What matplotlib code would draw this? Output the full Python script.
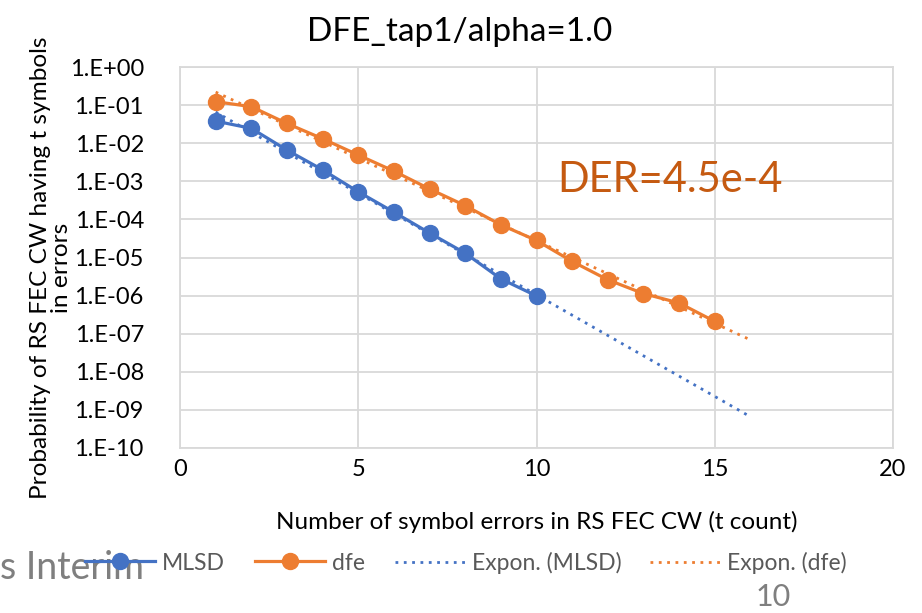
import numpy as np
import matplotlib
matplotlib.use('Agg')
import matplotlib.pyplot as plt
from matplotlib.ticker import FixedLocator, FuncFormatter, NullLocator

plt.rcParams['font.family'] = ['Lato', 'DejaVu Sans']

# symbol error count t and probability of a codeword having t symbol errors
t_mlsd = [1, 2, 3, 4, 5, 6, 7, 8, 9, 10]
p_mlsd = [3.8e-2, 2.45e-2, 6.6e-3, 2.0e-3, 5.3e-4, 1.55e-4, 4.4e-5, 1.3e-5, 2.75e-6, 9.8e-7]

t_dfe = [1, 2, 3, 4, 5, 6, 7, 8, 9, 10, 11, 12, 13, 14, 15]
p_dfe = [0.123, 0.091, 0.033, 0.0131, 4.9e-3, 1.85e-3, 6.3e-4, 2.3e-4, 7.2e-5,
         2.8e-5, 7.9e-6, 2.6e-6, 1.13e-6, 6.4e-7, 2.1e-7]

trend_end = 16
y_ticks = [10.0 ** k for k in range(0, -11, -1)]
x_ticks = [0, 5, 10, 15, 20]

blue = '#4472C4'
orange = '#ED7D31'
grid_col = '#D9D9D9'
W, H = 922, 613


def expon_fit(t, p):
    # exponential trendline: linear fit of ln(p) against t
    b, a = np.polyfit(t, np.log(p), 1)
    tt = np.linspace(t[0], trend_end, 200)
    return tt, np.exp(a + b * tt)


fig = plt.figure(figsize=(W / 100, H / 100), dpi=100)
ax = fig.add_axes([180 / W, 1 - 448 / H, 713 / W, 381 / H])

h1, = ax.plot(t_mlsd, p_mlsd, color=blue, lw=2.3, marker='o', ms=11.5, label='MLSD', zorder=4)
h2, = ax.plot(t_dfe, p_dfe, color=orange, lw=2.3, marker='o', ms=11.5, label='dfe', zorder=4)

tt, pp = expon_fit(t_mlsd, p_mlsd)
h3, = ax.plot(tt, pp, color=blue, lw=2.0, ls=(0, (1, 2.0)), label='Expon. (MLSD)', zorder=3)
tt, pp = expon_fit(t_dfe, p_dfe)
h4, = ax.plot(tt, pp, color=orange, lw=2.0, ls=(0, (1, 2.0)), label='Expon. (dfe)', zorder=3)

ax.set_yscale('log')
ax.set_ylim(1e-10, 1)
ax.set_xlim(0, 20)
ax.yaxis.set_major_locator(FixedLocator(y_ticks))
ax.yaxis.set_minor_locator(NullLocator())
ax.yaxis.set_major_formatter(FuncFormatter(lambda v, pos: '1.E%+03d' % int(round(np.log10(v)))))
ax.xaxis.set_major_locator(FixedLocator(x_ticks))

ax.grid(True, color=grid_col, lw=1.3)
ax.set_axisbelow(True)
for s in ax.spines.values():
    s.set_color(grid_col)
    s.set_linewidth(1.3)
ax.tick_params(axis='both', length=0, labelsize=17, colors='black')
ax.tick_params(axis='y', pad=26)
ax.tick_params(axis='x', pad=8)

ax.set_xlabel('Number of symbol errors in RS FEC CW (t count)', fontsize=17.5)
ax.xaxis.label.set_va('center')
ax.xaxis.set_label_coords(0.5, (448 - 522) / 381)

fig.text(51 / W, 1 - 268 / H, 'Probability of RS FEC CW having t symbols\nin errors',
         rotation=90, ha='center', va='center', multialignment='center',
         fontsize=17.6, linespacing=1.0)

fig.text(460 / W, 1 - 32 / H, 'DFE_tap1/alpha=1.0', ha='center', va='center', fontsize=24)
fig.text(670 / W, 1 - 180 / H, 'DER=4.5e-4', ha='center', va='center',
         fontsize=30, color='#C55A11')

# one legend entry per slot along the bottom
leg_y = 1 - 563 / H
for h, x0 in [(h1, 85), (h2, 255), (h3, 395), (h4, 650)]:
    leg = fig.legend(handles=[h], loc='center left', bbox_to_anchor=(x0 / W, leg_y),
                     frameon=False, fontsize=16.5, handlelength=3.05,
                     handletextpad=0.3, borderaxespad=0, borderpad=0)
    for txt in leg.get_texts():
        txt.set_color('#595959')

# leftover slide text around the chart
fig.text(0, 1 - 568 / H, 's Interim', ha='left', va='center', fontsize=27, color='#7F7F7F',
         zorder=1)
fig.text(773 / W, 1 - 597 / H, '10', ha='center', va='center', fontsize=22, color='#7F7F7F')

fig.savefig('out.png', dpi=100)
plt.close(fig)
